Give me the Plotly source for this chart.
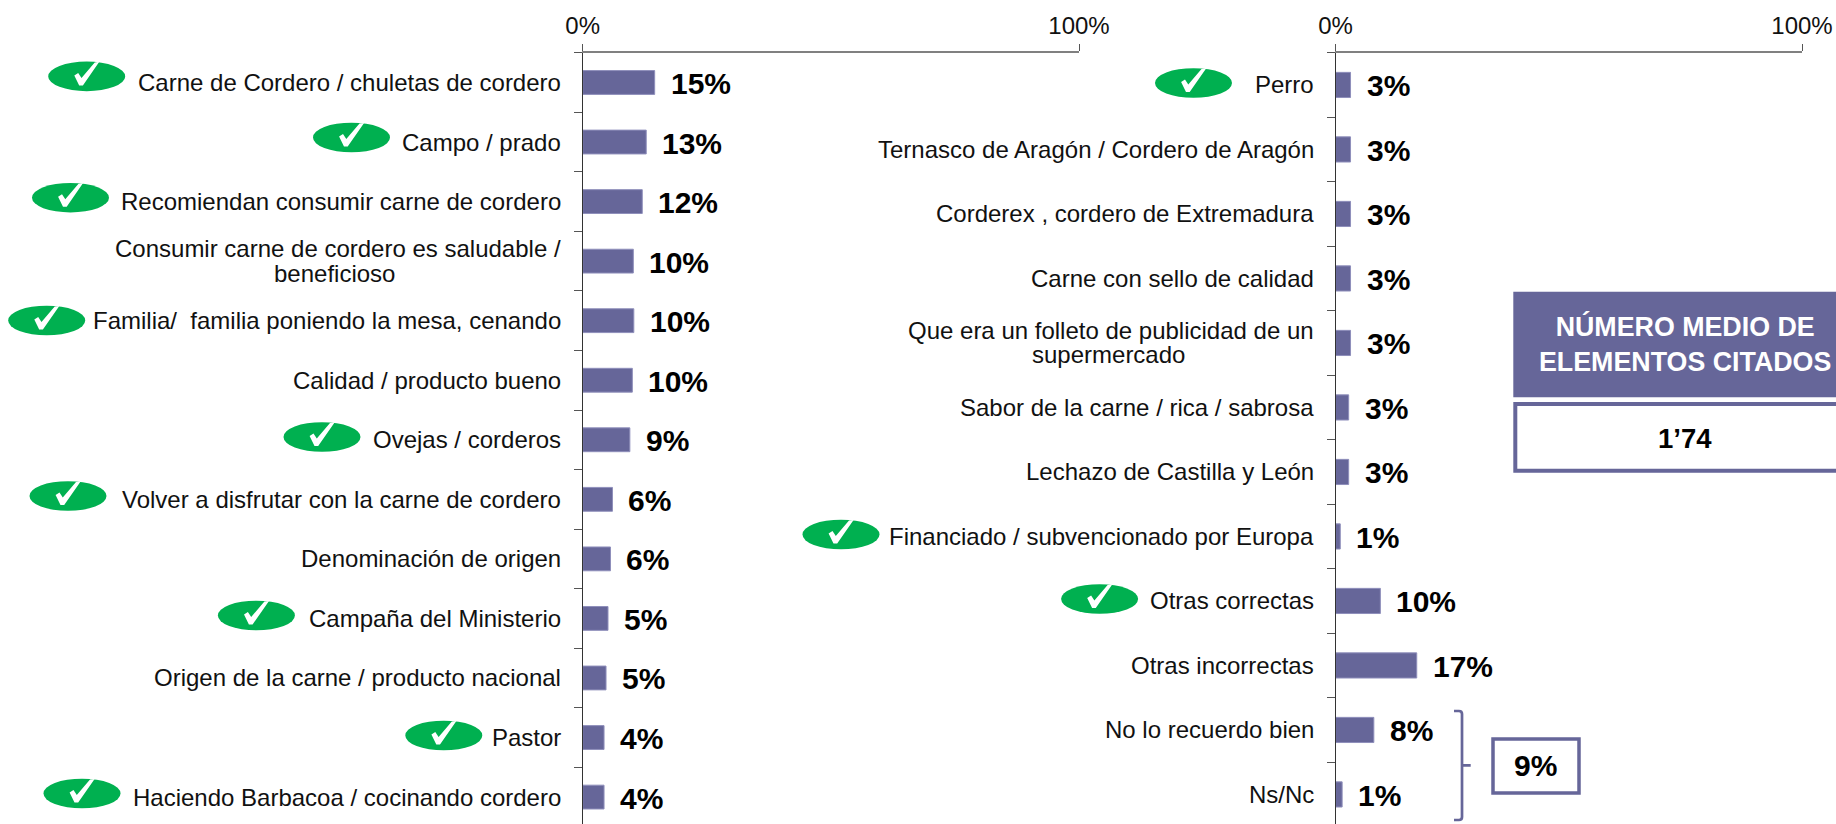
import plotly.graph_objects as go

W, H = 1836, 824

left_cats = ["Carne de Cordero / chuletas de cordero", "Campo / prado", "Recomiendan consumir carne de cordero",
             "Consumir carne de cordero es saludable /<br>beneficioso", "Familia/  familia poniendo la mesa, cenando",
             "Calidad / producto bueno", "Ovejas / corderos", "Volver a disfrutar con la carne de cordero",
             "Denominación de origen", "Campaña del Ministerio", "Origen de la carne / producto nacional",
             "Pastor", "Haciendo Barbacoa / cocinando cordero"]
left_vals = [14.5, 12.8, 12.0, 10.2, 10.3, 10.0, 9.5, 6.0, 5.6, 5.1, 4.7, 4.3, 4.3]
left_labels = ["15%", "13%", "12%", "10%", "10%", "10%", "9%", "6%", "6%", "5%", "5%", "4%", "4%"]

right_cats = ["Perro", "Ternasco de Aragón / Cordero de Aragón", "Corderex , cordero de Extremadura",
              "Carne con sello de calidad", "Que era un folleto de publicidad de un<br>supermercado",
              "Sabor de la carne / rica / sabrosa", "Lechazo de Castilla y León",
              "Financiado / subvencionado por Europa", "Otras correctas", "Otras incorrectas",
              "No lo recuerdo bien", "Ns/Nc"]
right_vals = [3.2, 3.2, 3.2, 3.2, 3.2, 2.8, 2.8, 1.0, 9.6, 17.4, 8.2, 1.4]
right_labels = ["3%", "3%", "3%", "3%", "3%", "3%", "3%", "1%", "10%", "17%", "8%", "1%"]

# tick-mark badges: (centre x, centre y) in page pixels
badges = [(86.7, 76.4), (351.5, 137.5), (70.5, 197.7), (46.7, 320.5), (322, 437), (68, 496), (256.4, 615.5),
          (443.8, 735.5), (82, 793.5), (1193.5, 83), (841, 534.5), (1099.6, 599)]

BAR = "#666699"
EDGE = "#8F8FBB"
GREEN = "#00B050"
FONT = "Liberation Sans"
AXIS_TOP = 52.7
L0, L100 = 582.7, 1079.0
R0, R100 = 1335.6, 1802.0
LBAND, RBAND = 59.55, 64.5

fig = go.Figure()
fig.add_trace(go.Bar(y=list(range(len(left_vals))), x=left_vals, orientation="h",
                     marker=dict(color=BAR, line=dict(color=EDGE, width=1)), width=0.4,
                     xaxis="x", yaxis="y", showlegend=False, hoverinfo="skip"))
fig.add_trace(go.Bar(y=list(range(len(right_vals))), x=right_vals, orientation="h",
                     marker=dict(color=BAR, line=dict(color=EDGE, width=1)), width=0.39,
                     xaxis="x2", yaxis="y2", showlegend=False, hoverinfo="skip"))


def px(x):
    return x / W


def py(y):
    return 1 - y / H


def xaxis(x0, x1, anchor):
    return dict(domain=[px(x0), px(x1)], range=[0, 100], side="top", anchor=anchor, tickvals=[0, 100],
                ticktext=["0%", "100%"], ticks="outside", ticklen=7, tickcolor="#555555", showgrid=False,
                zeroline=False, showline=True, linecolor="#808080", linewidth=1.5,
                tickfont=dict(family=FONT, size=24, color="#111111"))


def yaxis(anchor, n, band):
    # the last band runs past the page bottom, so the range is cut to the visible height
    span = (H - AXIS_TOP) / band
    return dict(domain=[0, py(AXIS_TOP)], range=[span - 0.5, -0.5], anchor=anchor, showgrid=False, zeroline=False,
                showline=True, linecolor="#333333", linewidth=1.2, showticklabels=False, ticks="outside", ticklen=8,
                tickcolor="#555555", tickvals=[i - 0.5 for i in range(n + 1)])


fig.update_layout(width=W, height=H, margin=dict(l=0, r=0, t=0, b=0, autoexpand=False), paper_bgcolor="white",
                  plot_bgcolor="white", barmode="overlay", font=dict(family=FONT),
                  xaxis=xaxis(L0, L100, "y"), xaxis2=xaxis(R0, R100, "y2"),
                  yaxis=yaxis("x", len(left_vals), LBAND), yaxis2=yaxis("x2", len(right_vals), RBAND))

ann = []
shapes = []


def check_path(cx, cy):
    pts = [(-12.4, -1), (-8.5, -3.5), (-5.2, 1.5), (8, -14), (12.6, -14.6), (-3.8, 9), (-7.5, 9)]
    return "M" + " L".join(f"{px(cx + a):.5f},{py(cy + b):.5f}" for a, b in pts) + " Z"


def panel(cats, vals, labels, xa, ya, second_line_shift):
    for i, (c, v, l) in enumerate(zip(cats, vals, labels)):
        lines = c.split("<br>")
        if len(lines) == 1:
            ann.append(dict(x=0, y=i, xref=xa, yref=ya, text=c, showarrow=False, xanchor="right", xshift=-20,
                            font=dict(family=FONT, size=24, color="#111111")))
        else:
            ann.append(dict(x=0, y=i, xref=xa, yref=ya, text=lines[0], showarrow=False, xanchor="right", xshift=-20,
                            yshift=12.5, font=dict(family=FONT, size=24, color="#111111")))
            ann.append(dict(x=0, y=i, xref=xa, yref=ya, text=lines[1], showarrow=False, xanchor="center",
                            xshift=second_line_shift, yshift=-12, font=dict(family=FONT, size=24, color="#111111")))
        ann.append(dict(x=v, y=i, xref=xa, yref=ya, text=f"<b>{l}</b>", showarrow=False, xanchor="left", xshift=14,
                        yshift=-1, font=dict(family=FONT, size=30, color="black")))


panel(left_cats, left_vals, left_labels, "x", "y", -248)
panel(right_cats, right_vals, right_labels, "x2", "y2", -227)

for cx, cy in badges:
    shapes.append(dict(type="circle", xref="paper", yref="paper", x0=px(cx - 38.5), x1=px(cx + 38.5),
                       y0=py(cy + 14.8), y1=py(cy - 14.8), fillcolor=GREEN, line_width=0))
    shapes.append(dict(type="path", xref="paper", yref="paper", path=check_path(cx, cy),
                       fillcolor="white", line_width=0))

# bracket
x_s = px(1462)
shapes.append(dict(type="path", xref="paper", yref="paper", line=dict(color=BAR, width=2.7),
                   path=(f"M{px(1454):.5f},{py(711):.5f} L{px(1459):.5f},{py(711):.5f} "
                         f"Q{x_s:.5f},{py(711):.5f} {x_s:.5f},{py(714):.5f} L{x_s:.5f},{py(817):.5f} "
                         f"Q{x_s:.5f},{py(820):.5f} {px(1459):.5f},{py(820):.5f} L{px(1454):.5f},{py(820):.5f} "
                         f"M{x_s:.5f},{py(765.3):.5f} L{px(1470.7):.5f},{py(765.3):.5f}")))
# 9% box
shapes.append(dict(type="rect", xref="paper", yref="paper", x0=px(1493), x1=px(1579), y0=py(739), y1=py(793),
                   line=dict(color=BAR, width=3.5), fillcolor="white"))
ann.append(dict(x=px(1535.8), y=py(765.5), xref="paper", yref="paper", text="<b>9%</b>", showarrow=False,
                xanchor="center", yanchor="middle", font=dict(family=FONT, size=30, color="black")))
# average panel
shapes.append(dict(type="rect", xref="paper", yref="paper", x0=px(1513.3), x1=1, y0=py(291.7), y1=py(397.3),
                   fillcolor=BAR, line_width=0))
shapes.append(dict(type="rect", xref="paper", yref="paper", x0=px(1515.3), x1=px(1845), y0=py(404), y1=py(470.7),
                   line=dict(color=BAR, width=4), fillcolor="white"))
ann.append(dict(x=px(1685), y=py(344), xref="paper", yref="paper", showarrow=False, align="center",
                xanchor="center", yanchor="middle",
                text="<b>NÚMERO MEDIO DE<br>ELEMENTOS CITADOS</b>", font=dict(family=FONT, size=26.8, color="white")))
ann.append(dict(x=px(1685), y=py(438), xref="paper", yref="paper", showarrow=False, text="<b>1’74</b>",
                xanchor="center", yanchor="middle", font=dict(family=FONT, size=27.5, color="black")))

fig.update_layout(annotations=ann, shapes=shapes)
fig.write_html("out.html", config=dict(displayModeBar=False), post_script="document.body.style.margin='0';")
